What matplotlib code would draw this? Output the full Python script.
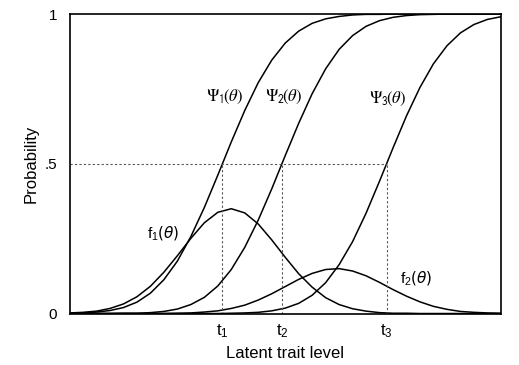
import numpy as np
import matplotlib
matplotlib.use("Agg")
import matplotlib.pyplot as plt

plt.rcParams["font.family"] = ["Liberation Sans", "DejaVu Sans"]

# latent trait grid (arbitrary units) and curve values
theta = np.arange(-4.0, 4.01, 0.25)
psi1 = [0.001, 0.002, 0.005, 0.010, 0.020, 0.038, 0.068, 0.113, 0.175, 0.257,
        0.354, 0.462, 0.573, 0.678, 0.771, 0.846, 0.903, 0.943, 0.969, 0.984,
        0.992, 0.997, 0.999, 0.999, 1.0, 1.0, 1.0, 1.0, 1.0, 1.0, 1.0, 1.0, 1.0]
psi2 = [0, 0, 0, 0, 0.001, 0.001, 0.003, 0.007, 0.015, 0.030,
        0.054, 0.092, 0.147, 0.221, 0.312, 0.416, 0.527, 0.635, 0.734, 0.817,
        0.882, 0.928, 0.959, 0.978, 0.989, 0.995, 0.998, 0.999, 1.0, 1.0, 1.0, 1.0, 1.0]
psi3 = [0, 0, 0, 0, 0, 0, 0, 0, 0, 0,
        0, 0, 0.001, 0.002, 0.004, 0.009, 0.018, 0.034, 0.061, 0.103,
        0.163, 0.240, 0.335, 0.442, 0.553, 0.660, 0.755, 0.834, 0.894, 0.937,
        0.965, 0.982, 0.991]
f1 = [0.002, 0.004, 0.008, 0.017, 0.032, 0.056, 0.091, 0.138, 0.193, 0.251,
      0.303, 0.338, 0.350, 0.336, 0.299, 0.246, 0.188, 0.133, 0.088, 0.053,
      0.030, 0.016, 0.008, 0.003, 0.001, 0.001, 0, 0, 0, 0, 0, 0, 0]
f2 = [0, 0, 0, 0, 0, 0, 0, 0, 0.001, 0.002,
      0.005, 0.009, 0.017, 0.028, 0.045, 0.066, 0.090, 0.114, 0.134, 0.147,
      0.150, 0.142, 0.126, 0.104, 0.080, 0.058, 0.039, 0.024, 0.014, 0.007,
      0.004, 0.002, 0.001]
thresholds = [-1.164, -0.060, 1.881]
t_labels = [r"$\mathregular{t_1}$", r"$\mathregular{t_2}$", r"$\mathregular{t_3}$"]

fig = plt.figure(figsize=(5.19, 3.65), dpi=100)
ax = fig.add_axes([0.134, 0.141, 0.831, 0.8205])

for y in (psi1, psi2, psi3, f1, f2):
    ax.plot(theta, y, color="black", lw=1.1)

dash = dict(color="#555555", lw=0.8, ls=(0, (2, 2)))
ax.plot([theta[0], thresholds[-1]], [0.5, 0.5], **dash)
for t in thresholds:
    ax.plot([t, t], [0, 0.5], **dash)

psi_kw = dict(math_fontfamily="stix", fontsize=12, ha="right", va="center")
ax.text(-0.78, 0.722, r"$\Psi_{\mathsf{1}}\!(\theta)$", **psi_kw)
ax.text(0.33, 0.722, r"$\Psi_{\mathsf{2}}\!(\theta)$", **psi_kw)
ax.text(2.26, 0.715, r"$\Psi_{\mathsf{3}}\!(\theta)$", **psi_kw)
ax.text(-1.95, 0.268, r"$\mathregular{f_1}(\theta)$", fontsize=11,
        ha="right", va="center")
ax.text(2.13, 0.118, r"$\mathregular{f_2}(\theta)$", fontsize=11,
        ha="left", va="center")

ax.set_xlim(-4, 4)
ax.set_ylim(0, 1)
ax.set_yticks([0, 0.5, 1])
ax.set_yticklabels(["0", ".5", "1"])
ax.set_xticks(thresholds)
ax.set_xticklabels(t_labels)
ax.tick_params(length=0, labelsize=11)
ax.tick_params(axis="x", labelsize=12, pad=6)
ax.tick_params(axis="y", pad=9)
for s in ax.spines.values():
    s.set_linewidth(1.2)

ax.set_xlabel("Latent trait level", fontsize=12)
ax.set_ylabel("Probability", fontsize=12)
ax.xaxis.set_label_coords(0.5, -0.108)
ax.yaxis.set_label_coords(-0.071, 0.5)

fig.savefig("out.png", dpi=100)
